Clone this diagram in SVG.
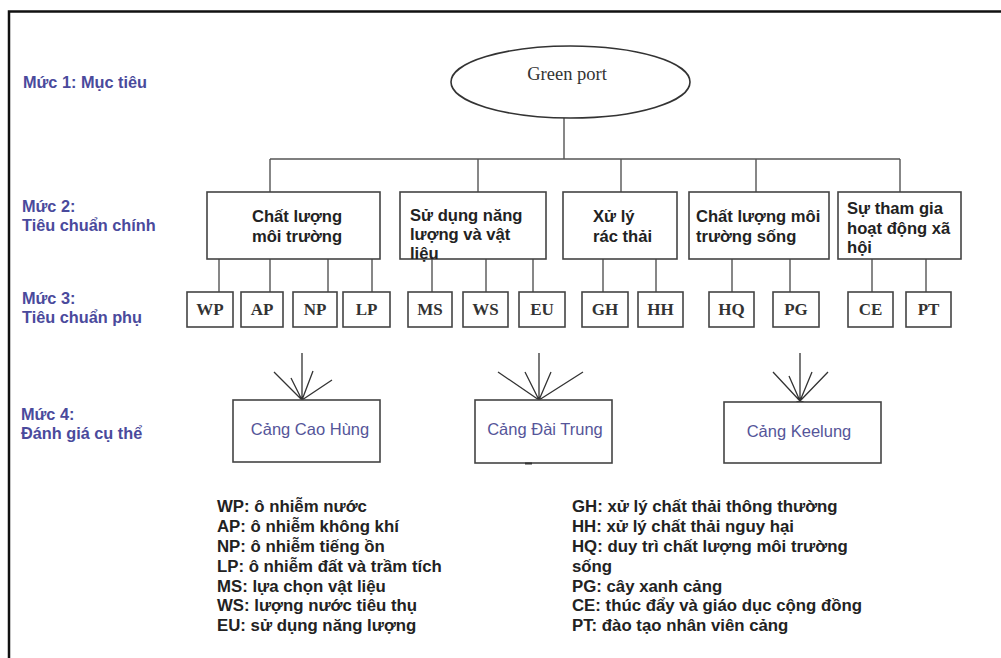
<svg xmlns="http://www.w3.org/2000/svg" width="1001" height="658" viewBox="0 0 1001 658">
  <style>
    .frame { stroke: #111; stroke-width: 2.5; fill: none; }
    .box { fill: #fff; stroke: #444; stroke-width: 1.6; }
    .wire { stroke: #555; stroke-width: 1.4; fill: none; }
    .fan { stroke: #333; stroke-width: 1.3; fill: none; }
    .lvl { font-family: "Liberation Sans", Arial, sans-serif; font-size: 16.3px; font-weight: bold; fill: #4a4a9c; }
    .crit { font-family: "Liberation Sans", Arial, sans-serif; font-size: 16.6px; font-weight: bold; fill: #222; }
    .code { font-family: "Liberation Serif", "Times New Roman", serif; font-size: 17px; font-weight: bold; fill: #333; text-anchor: middle; }
    .port { font-family: "Liberation Sans", Arial, sans-serif; font-size: 16.5px; fill: #555599; text-anchor: middle; }
    .legend { font-family: "Liberation Sans", Arial, sans-serif; font-size: 16.8px; font-weight: bold; fill: #222; }
  </style>

  <rect width="1001" height="658" fill="#fff"/>
  <!-- outer frame (top and left edges) -->
  <path class="frame" d="M9,658 V11.5 H1001"/>

  <!-- level captions -->
  <g id="levels">
    <text class="lvl" x="23" y="88">Mức 1: Mục tiêu</text>
    <text class="lvl" x="22" y="212">Mức 2:</text>
    <text class="lvl" x="22" y="231">Tiêu chuẩn chính</text>
    <text class="lvl" x="22" y="304">Mức 3:</text>
    <text class="lvl" x="22" y="323">Tiêu chuẩn phụ</text>
    <text class="lvl" x="21" y="420">Mức 4:</text>
    <text class="lvl" x="21" y="439">Đánh giá cụ thể</text>
  </g>

  <!-- connectors -->
  <g id="connectors">
    <path class="wire" d="M564,118 V159 M270,159 H900 M270,159 V192 M478,159 V192 M621,159 V192 M756,159 V192 M900,159 V192"/>
    <path class="wire" d="M219,259 V292 M270,259 V292 M328,259 V292 M372,259 V292"/>
    <path class="wire" d="M432,259 V292 M486,259 V292 M533,259 V292"/>
    <path class="wire" d="M603,259 V292 M656,259 V292"/>
    <path class="wire" d="M732,259 V292 M790,259 V292"/>
    <path class="wire" d="M872,259 V292 M926,259 V292"/>
    <!-- converging fans into the port boxes -->
    <path class="fan" d="M302,400 L302,353 M302,400 L274,372 M302,400 L291,378 M302,400 L313,371 M302,400 L332,380"/>
    <path class="fan" d="M539,400 L539,353 M539,400 L498,372 M539,400 L525,372 M539,400 L551,372 M539,400 L583,372"/>
    <path class="fan" d="M800,401 L800,353 M800,401 L773,372 M800,401 L789,376 M800,401 L812,372 M800,401 L828,372"/>
    <path d="M298,400 L306,400 L302,404 Z M535,400 L543,400 L539,404 Z M796,401 L804,401 L800,405 Z" fill="#222"/>
  </g>

  <!-- goal -->
  <g id="goal">
    <ellipse cx="570.5" cy="82" rx="119.5" ry="36" fill="#fff" stroke="#333" stroke-width="1.6"/>
    <text class="code" x="567" y="80" style="font-weight:normal;font-size:18.5px">Green port</text>
  </g>

  <!-- main criteria -->
  <g id="c-env">
    <rect class="box" x="207" y="192" width="173" height="67"/>
    <text class="crit" x="297" y="222" text-anchor="middle">Chất lượng</text>
    <text class="crit" x="297" y="242" text-anchor="middle">môi trường</text>
  </g>
  <g id="c-energy">
    <rect class="box" x="400" y="192" width="146" height="67"/>
    <text class="crit" x="410" y="221">Sử dụng năng</text>
    <text class="crit" x="410" y="240">lượng và vật</text>
    <text class="crit" x="410" y="259">liệu</text>
  </g>
  <g id="c-waste">
    <rect class="box" x="563" y="192" width="114" height="67"/>
    <text class="crit" x="593" y="222">Xử lý</text>
    <text class="crit" x="593" y="242">rác thải</text>
  </g>
  <g id="c-habitat">
    <rect class="box" x="689" y="192" width="140" height="67"/>
    <text class="crit" x="696" y="222">Chất lượng môi</text>
    <text class="crit" x="696" y="242">trường sống</text>
  </g>
  <g id="c-social">
    <rect class="box" x="838" y="192" width="123" height="67"/>
    <text class="crit" x="847" y="214">Sự tham gia</text>
    <text class="crit" x="847" y="234">hoạt động xã</text>
    <text class="crit" x="847" y="253">hội</text>
  </g>

  <!-- sub criteria -->
  <g id="s-wp"><rect class="box" x="187" y="292" width="46" height="35"/><text class="code" x="210" y="315">WP</text></g>
  <g id="s-ap"><rect class="box" x="241" y="292" width="42" height="35"/><text class="code" x="262" y="315">AP</text></g>
  <g id="s-np"><rect class="box" x="293" y="292" width="44" height="35"/><text class="code" x="315" y="315">NP</text></g>
  <g id="s-lp"><rect class="box" x="343" y="292" width="47" height="35"/><text class="code" x="366.5" y="315">LP</text></g>
  <g id="s-ms"><rect class="box" x="408" y="292" width="44" height="35"/><text class="code" x="430" y="315">MS</text></g>
  <g id="s-ws"><rect class="box" x="463" y="292" width="45" height="35"/><text class="code" x="485.5" y="315">WS</text></g>
  <g id="s-eu"><rect class="box" x="519" y="292" width="46" height="35"/><text class="code" x="542" y="315">EU</text></g>
  <g id="s-gh"><rect class="box" x="582" y="292" width="46" height="35"/><text class="code" x="605" y="315">GH</text></g>
  <g id="s-hh"><rect class="box" x="638" y="292" width="45" height="35"/><text class="code" x="660.5" y="315">HH</text></g>
  <g id="s-hq"><rect class="box" x="709" y="292" width="45" height="35"/><text class="code" x="731.5" y="315">HQ</text></g>
  <g id="s-pg"><rect class="box" x="773" y="292" width="46" height="35"/><text class="code" x="796" y="315">PG</text></g>
  <g id="s-ce"><rect class="box" x="848" y="292" width="45" height="35"/><text class="code" x="870.5" y="315">CE</text></g>
  <g id="s-pt"><rect class="box" x="906" y="292" width="45" height="35"/><text class="code" x="928.5" y="315">PT</text></g>

  <!-- ports -->
  <g id="p-kaohsiung">
    <rect class="box" x="233" y="400" width="147" height="62"/>
    <text class="port" x="310" y="435">Cảng Cao Hùng</text>
  </g>
  <g id="p-taichung">
    <rect class="box" x="475" y="400" width="137" height="63"/>
    <text class="port" x="545" y="435">Cảng Đài Trung</text>
    <path d="M525,463.5 H532" stroke="#333" stroke-width="2"/>
  </g>
  <g id="p-keelung">
    <rect class="box" x="724" y="402" width="157" height="61"/>
    <text class="port" x="799" y="437">Cảng Keelung</text>
  </g>

  <!-- abbreviations -->
  <g id="legend-left">
    <text class="legend" x="217" y="512">WP: ô nhiễm nước</text>
    <text class="legend" x="217" y="532">AP: ô nhiễm không khí</text>
    <text class="legend" x="217" y="552">NP: ô nhiễm tiếng ồn</text>
    <text class="legend" x="217" y="572">LP: ô nhiễm đất và trầm tích</text>
    <text class="legend" x="217" y="592">MS: lựa chọn vật liệu</text>
    <text class="legend" x="217" y="611">WS: lượng nước tiêu thụ</text>
    <text class="legend" x="217" y="631">EU: sử dụng năng lượng</text>
  </g>
  <g id="legend-right">
    <text class="legend" x="572" y="512">GH: xử lý chất thải thông thường</text>
    <text class="legend" x="572" y="532">HH: xử lý chất thải nguy hại</text>
    <text class="legend" x="572" y="552">HQ: duy trì chất lượng môi trường</text>
    <text class="legend" x="572" y="572">sống</text>
    <text class="legend" x="572" y="592">PG: cây xanh cảng</text>
    <text class="legend" x="572" y="611">CE: thúc đẩy và giáo dục cộng đồng</text>
    <text class="legend" x="572" y="631">PT: đào tạo nhân viên cảng</text>
  </g>
</svg>
